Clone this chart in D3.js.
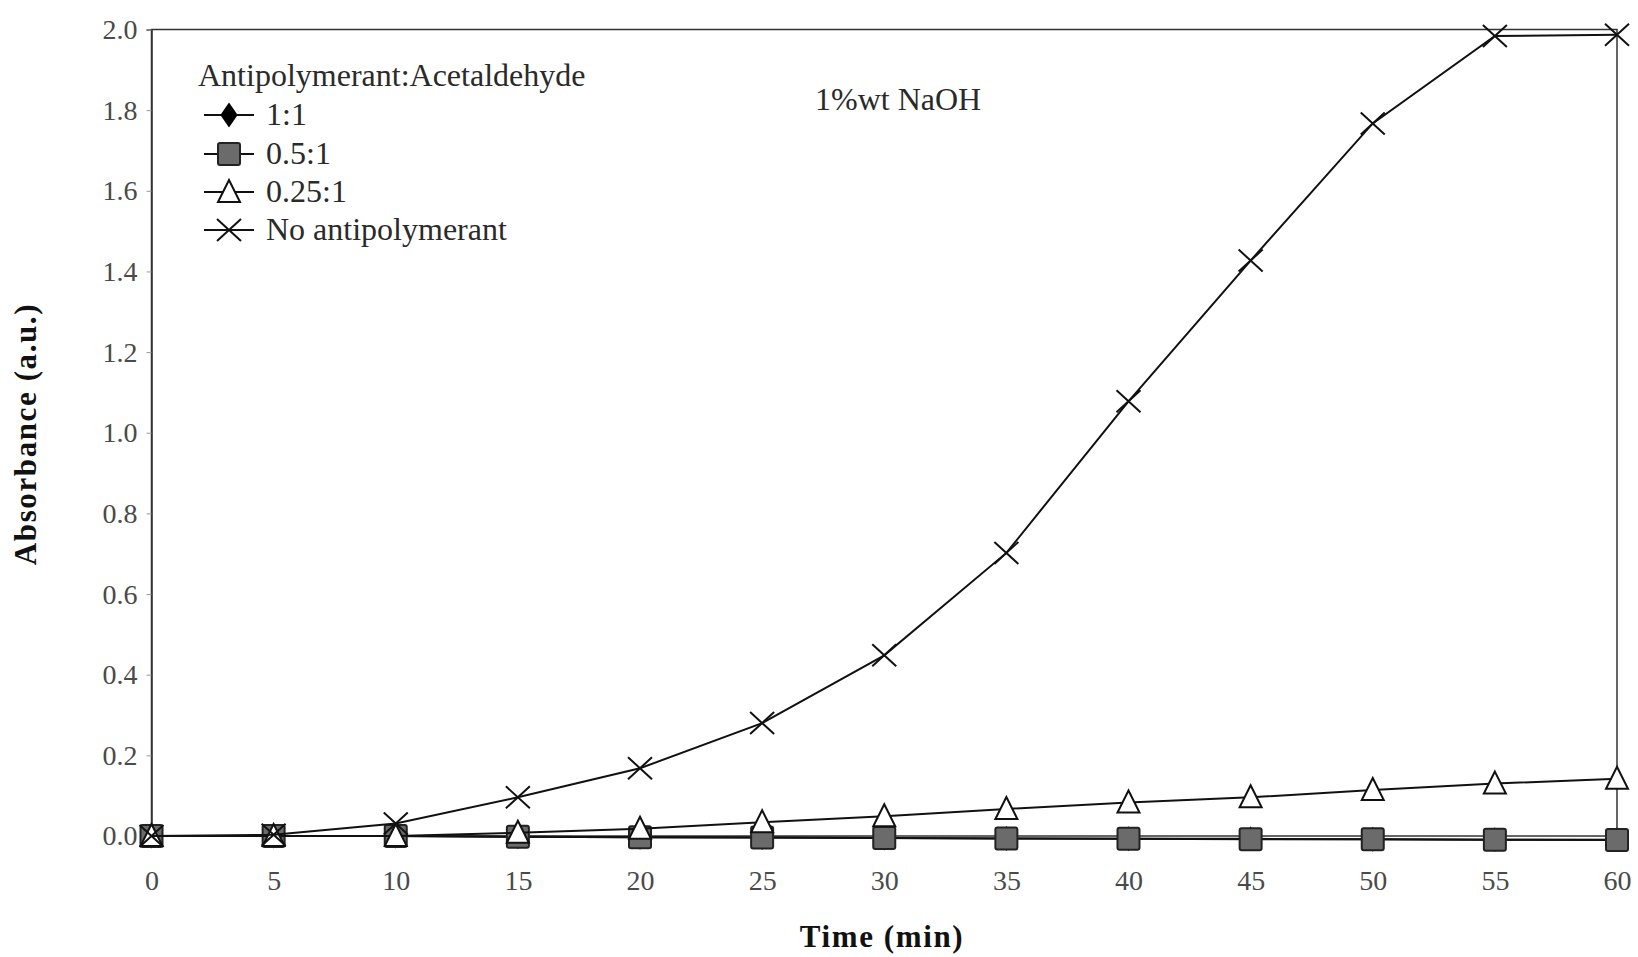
<!DOCTYPE html>
<html lang="en">
<head>
    <meta charset="UTF-8">
    <title>Absorbance vs Time</title>
    <script src="https://d3js.org/d3.v7.min.js"></script>
    <style>
        body {
            margin: 0;
            background-color: #fff;
        }
        text {
            font-family: "Liberation Serif", "Times New Roman", serif !important;
            fill: #2a2a2a;
        }
        .axis-title {
            font-weight: bold;
            font-size: 31px;
            letter-spacing: 1.6px;
            fill: #111;
        }
        .tick text {
            font-size: 28px;
            fill: #4a4a4a;
        }
        .legend text, .note {
            font-size: 32px;
        }
    </style>
</head>
<body>
    <div id="chart"></div>

    <script>
        const width = 1638, height = 957;

        // data
        const times = [0, 5, 10, 15, 20, 25, 30, 35, 40, 45, 50, 55, 60];
        const ratio11 = [0, 0, 0, -0.002, -0.003, -0.004, -0.005, -0.006, -0.007, -0.007, -0.008, -0.009, -0.009];
        const ratio051 = [0, 0, 0, -0.002, -0.003, -0.004, -0.005, -0.006, -0.007, -0.008, -0.008, -0.009, -0.01];
        const ratio0251 = [0, 0, 0, 0.008, 0.018, 0.034, 0.049, 0.067, 0.083, 0.096, 0.114, 0.13, 0.142];
        const noAnti = [0, 0.003, 0.031, 0.096, 0.168, 0.28, 0.448, 0.702, 1.078, 1.427, 1.767, 1.984, 1.987];
        const seriesNames = ["1:1", "0.5:1", "0.25:1", "No antipolymerant"];
        const yTicks = [0, 0.2, 0.4, 0.6, 0.8, 1.0, 1.2, 1.4, 1.6, 1.8, 2.0];

        const series = [
            { name: seriesNames[0], values: ratio11, marker: "diamond" },
            { name: seriesNames[1], values: ratio051, marker: "square" },
            { name: seriesNames[2], values: ratio0251, marker: "triangle" },
            { name: seriesNames[3], values: noAnti, marker: "cross" }
        ];

        const svg = d3.select("#chart")
            .append("svg")
            .attr("width", width)
            .attr("height", height);

        const x = d3.scaleLinear().domain([0, 60]).range([151.5, 1617]);
        const y = d3.scaleLinear().domain([0, 2]).range([836, 29.5]);

        // frame
        svg.append("rect")
            .attr("x", x(0))
            .attr("y", y(2))
            .attr("width", x(60) - x(0))
            .attr("height", y(0) - y(2))
            .attr("fill", "none")
            .attr("stroke", "#333")
            .attr("stroke-width", 1.5);

        // y axis
        const yAxis = svg.append("g")
            .attr("transform", `translate(${x(0)},0)`)
            .call(d3.axisLeft(y).tickValues(yTicks).tickSize(5).tickPadding(9).tickFormat(d3.format(".1f")));
        yAxis.attr("font-family", null);
        yAxis.select(".domain").attr("stroke", "#333").attr("stroke-width", 1.5);
        yAxis.selectAll(".tick line").attr("stroke", "#999");

        // x axis
        const xAxis = svg.append("g")
            .attr("transform", `translate(0,${y(0)})`)
            .call(d3.axisBottom(x).tickValues(times).tickSize(0).tickPadding(34));
        xAxis.attr("font-family", null);
        xAxis.select(".domain").remove();

        // axis titles
        svg.append("text")
            .attr("class", "axis-title")
            .attr("x", 882)
            .attr("y", 947)
            .attr("text-anchor", "middle")
            .text("Time (min)");

        svg.append("text")
            .attr("class", "axis-title")
            .attr("transform", "translate(36,434) rotate(-90)")
            .attr("text-anchor", "middle")
            .text("Absorbance (a.u.)");

        svg.append("text")
            .attr("class", "note")
            .attr("x", 815)
            .attr("y", 110)
            .text("1%wt NaOH");

        const line = d3.line()
            .x((d, i) => x(times[i]))
            .y(d => y(d));

        function drawMarker(g, type) {
            if (type === "diamond") {
                g.append("path")
                    .attr("d", d3.symbol().type(d3.symbolDiamond).size(180)())
                    .attr("fill", "#000")
                    .attr("transform", "scale(1.2,1)");
            } else if (type === "square") {
                g.append("rect")
                    .attr("x", -11).attr("y", -11)
                    .attr("width", 22).attr("height", 22)
                    .attr("rx", 2)
                    .attr("fill", "#6b6b6b")
                    .attr("stroke", "#222")
                    .attr("stroke-width", 2);
            } else if (type === "triangle") {
                g.append("path")
                    .attr("d", "M0,-12L11,10L-11,10Z")
                    .attr("fill", "#fff")
                    .attr("stroke", "#111")
                    .attr("stroke-width", 2);
            } else {
                g.append("path")
                    .attr("d", "M-12,-11L12,11M-12,11L12,-11")
                    .attr("fill", "none")
                    .attr("stroke", "#111")
                    .attr("stroke-width", 2);
            }
        }

        series.forEach(s => {
            const sg = svg.append("g");
            sg.append("path")
                .datum(s.values)
                .attr("d", line)
                .attr("fill", "none")
                .attr("stroke", "#111")
                .attr("stroke-width", 2);
            sg.selectAll(".pt")
                .data(s.values)
                .join("g")
                .attr("class", "pt")
                .attr("transform", (d, i) => `translate(${x(times[i])},${y(d)})`)
                .each(function() { drawMarker(d3.select(this), s.marker); });
        });

        // legend
        const legend = svg.append("g").attr("class", "legend");
        legend.append("text")
            .attr("x", 198)
            .attr("y", 86)
            .text("Antipolymerant:Acetaldehyde");

        const legendY = [115, 154, 192, 230];
        series.forEach((s, i) => {
            const lg = legend.append("g").attr("transform", `translate(229,${legendY[i]})`);
            lg.append("line")
                .attr("x1", -25).attr("x2", 25)
                .attr("stroke", "#111")
                .attr("stroke-width", 2);
            drawMarker(lg, s.marker);
            lg.append("text")
                .attr("x", 37)
                .attr("y", 10)
                .text(s.name);
        });
    </script>
</body>
</html>
